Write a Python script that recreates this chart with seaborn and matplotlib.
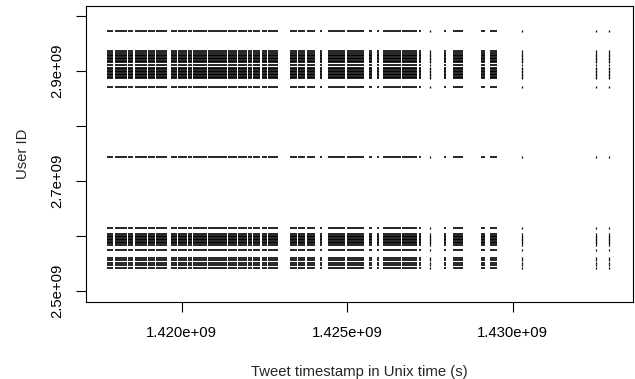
import matplotlib
matplotlib.use("Agg")
import matplotlib.pyplot as plt
import seaborn as sns
import pandas as pd

# one row per account
user_ids = [2972700000, 2935450000, 2931820000, 2929090000, 2926360000,
            2923640000, 2920910000, 2918180000, 2915450000, 2910000000,
            2905450000, 2902730000, 2900000000, 2897270000, 2894550000,
            2891820000, 2889090000, 2886360000, 2870000000,
            2743640000,
            2614550000, 2602730000, 2600000000, 2597270000, 2594550000,
            2591820000, 2589090000, 2586360000, 2583640000, 2574550000,
            2560000000, 2555450000, 2550910000, 2546360000, 2541820000]

# bursts of tweets (unix time, s)
burst_start = [1417743000, 1417985000, 1418378000, 1418589000, 1418982000,
               1419224000, 1419677000, 1419888000, 1420190000, 1420341000,
               1420795000, 1421399000, 1421701000, 1422003000, 1422154000,
               1422426000, 1422607000, 1423272000, 1423514000, 1423785000,
               1424178000, 1424420000, 1424994000, 1425659000, 1425900000,
               1426081000, 1426656000, 1427169000, 1427925000, 1428196000,
               1429042000, 1429314000]
burst_end = [1417925000, 1418347000, 1418529000, 1418952000, 1419193000,
             1419556000, 1419858000, 1420160000, 1420311000, 1420764000,
             1421369000, 1421671000, 1421973000, 1422124000, 1422366000,
             1422577000, 1422909000, 1423483000, 1423725000, 1424027000,
             1424239000, 1424934000, 1425508000, 1425749000, 1425960000,
             1426625000, 1427109000, 1427230000, 1427985000, 1428498000,
             1429163000, 1429526000]

# lone tweets
single_times = [1427502000, 1430281000, 1432517000, 1432909000]

x_ticks = [1.420e9, 1.425e9, 1.430e9]
x_labels = ["1.420e+09", "1.425e+09", "1.430e+09"]
y_ticks = [2.5e9, 2.6e9, 2.7e9, 2.8e9, 2.9e9, 3.0e9]
y_labels = ["2.5e+09", "", "2.7e+09", "", "2.9e+09", ""]

bursts = pd.DataFrame([(u, s, e) for u in user_ids
                       for s, e in zip(burst_start, burst_end)],
                      columns=["user", "start", "end"])
singles = pd.DataFrame([(u, t) for u in user_ids for t in single_times],
                       columns=["user", "time"])

sns.set_style("ticks")
plt.rcParams['font.family'] = ['Liberation Sans', 'DejaVu Sans']

fig = plt.figure(figsize=(6.35, 3.79), dpi=100)
ax = fig.add_axes([86/635, 77/379, 547/635, 296/379])

ax.hlines(bursts["user"], bursts["start"], bursts["end"],
          colors="black", linewidth=1.2, capstyle="butt")
sns.scatterplot(data=singles, x="time", y="user", marker="|", s=4,
                color="black", linewidth=0.9, ax=ax, legend=False)

ax.set_xlim(1417110000, 1433630000)
ax.set_ylim(2.48e9, 3.018e9)

ax.set_xticks(x_ticks)
ax.set_xticklabels(x_labels)
ax.set_yticks(y_ticks)
ax.set_yticklabels(y_labels, rotation=90, va="center")
ax.tick_params(axis="both", direction="out", length=7, width=0.8,
               color="black", labelsize=10.7, labelcolor="black")
ax.tick_params(axis="x", pad=10)
ax.tick_params(axis="y", pad=9)

for side in ["top", "right", "bottom", "left"]:
    ax.spines[side].set_visible(True)
    ax.spines[side].set_color("black")
    ax.spines[side].set_linewidth(0.8)

ax.set_xlabel("Tweet timestamp in Unix time (s)", fontsize=10.7, labelpad=18)
ax.set_ylabel("User ID", fontsize=10.7, labelpad=14)

fig.savefig("out.png", dpi=100)
